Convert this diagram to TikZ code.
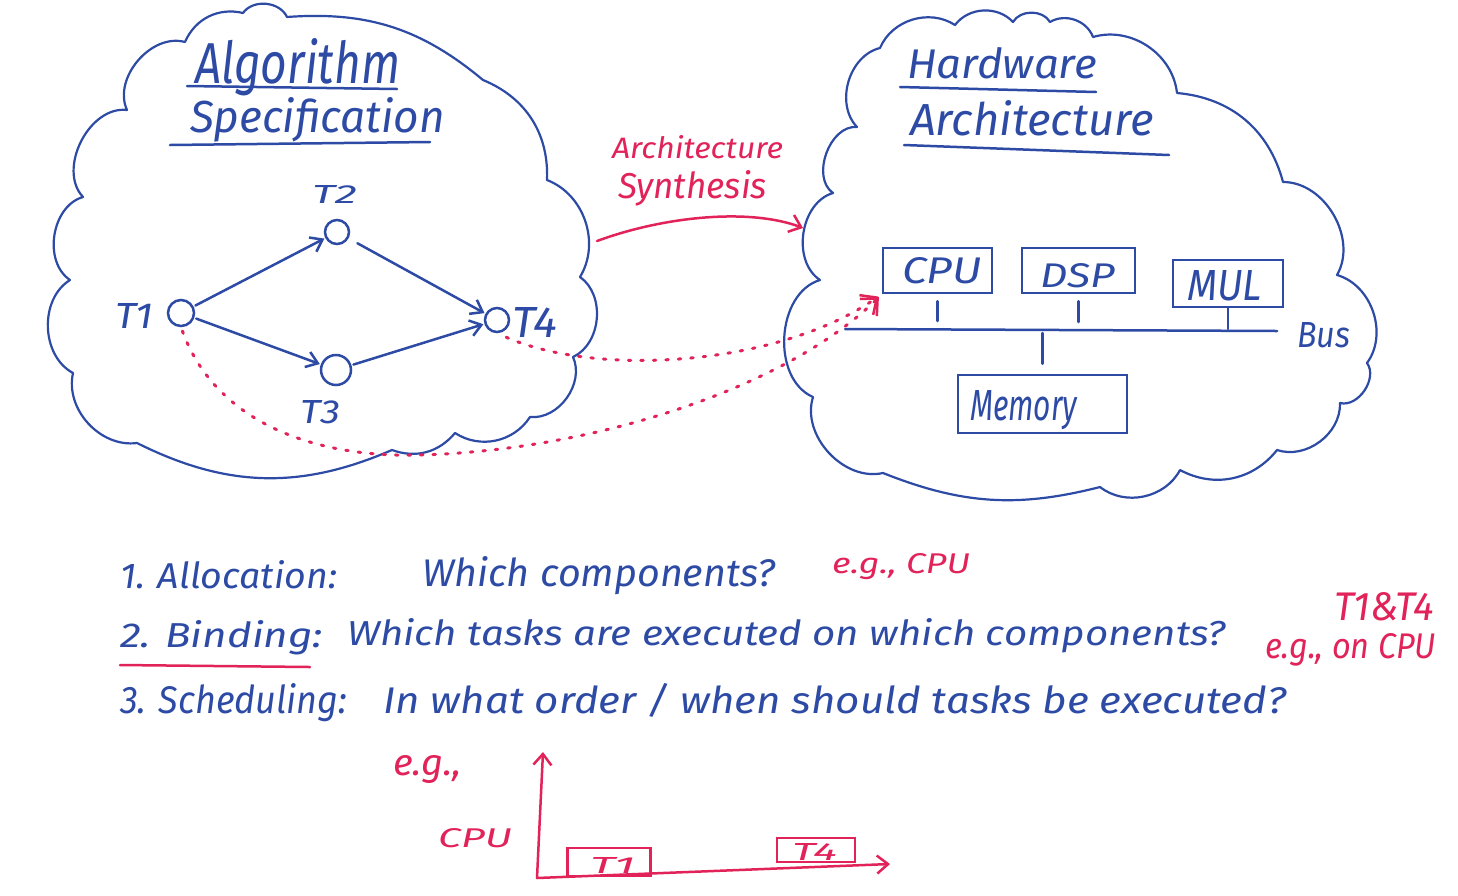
\documentclass[tikz,border=0pt]{standalone}
\usepackage{fontspec}
\setmainfont{Fira Sans}
\usepackage{graphicx}
\usetikzlibrary{arrows.meta}
\definecolor{ink}{RGB}{45,75,165}
\definecolor{redink}{RGB}{225,35,90}
\newcommand{\hw}[3]{\resizebox{#1pt}{#2pt}{\itshape #3}}
\begin{document}
\begin{tikzpicture}[x=1pt,y=-1pt,
  txt/.style={anchor=base west, inner sep=0pt, outer sep=0pt, text=ink},
  rtxt/.style={txt, text=redink},
  pen/.style={draw=ink, line width=2.5pt, line cap=round, line join=round},
  rpen/.style={draw=redink, line width=2.5pt, line cap=round, line join=round},
  cloudline/.style={pen, line width=2.2pt},
  task/.style={circle, draw=ink, line width=2.5pt, inner sep=0pt},
  box/.style={draw=ink, line width=2.5pt, inner sep=0pt},
  rbox/.style={draw=redink, line width=2.5pt, inner sep=0pt},
  garrow/.style={pen, -{Straight Barb[length=11pt,width=16pt]}},
  rarrow/.style={rpen, -{Straight Barb[length=11pt,width=18pt]}},
  dotarrow/.style={draw=redink, line width=3pt, line cap=round, dash pattern=on 2.5pt off 10pt, -{Straight Barb[length=13pt,width=24pt,line width=2.5pt]}}
]
\useasboundingbox (0,0) rectangle (1458,895);
\fill[white] (0,0) rectangle (1458,895);

% ---------- left cloud ----------
\draw[cloudline] (70,280) to[bend left=65] (83,197) to[bend left=70] (127,110)
  to[bend left=65] (185,42) to[bend left=40] (243,13) to[bend left=60] (287,17)
  to[bend left=22] (483,80) to[bend left=35] (547,180) to[bend left=50] (580,277)
  to[bend left=60] (573,357) to[bend left=60] (530,417) to[bend left=45] (455,433)
  to[bend left=35] (392,450) to[bend left=25] (137,443) to[bend left=55] (73,373)
  to[bend left=60] (70,280);

% ---------- right cloud ----------
\draw[cloudline] (857,127) to[bend left=60] (880,48) to[bend left=50] (955,25)
  to[bend left=50] (1013,22) to[bend left=60] (1050,22) to[bend left=50] (1093,37)
  to[bend left=50] (1177,93) to[bend left=35] (1283,182) to[bend left=60] (1337,275)
  to[bend left=55] (1367,363) to[bend left=70] (1340,403) to[bend left=55] (1277,450)
  to[bend left=40] (1180,470) to[bend left=50] (1100,487) to[bend left=18] (883,473)
  to[bend left=60] (813,397) to[bend left=70] (820,280) to[bend left=65] (833,193)
  to[bend left=75] (857,127);

% ---------- left titles ----------
\node[txt] (alg) at (195,83) {\hw{205}{45}{Algorithm}};
\node[txt] (spec) at (190,132) {\hw{255}{35}{Specification}};
\draw[pen] (187,86) -- (397,89);
\draw[pen] (170,145) -- (430,142);

% ---------- task graph ----------
\node[task, minimum size=26pt] (t1) at (181,313) {};
\node[task, minimum size=24pt] (t2) at (337,232) {};
\node[task, minimum size=30pt] (t3) at (336,370) {};
\node[task, minimum size=24pt] (t4) at (497,320) {};
\node[txt] (l1) at (115,328) {\hw{38}{25}{T1}};
\node[txt] (l2) at (312,203) {\hw{45}{18}{T2}};
\node[txt] (l3) at (300,423) {\hw{40}{23}{T3}};
\node[txt] (l4) at (512,337) {\hw{45}{30}{T4}};
\draw[garrow, shorten <=2pt, shorten >=1pt] (t1) -- (t2);
\draw[garrow, shorten <=2pt, shorten >=1pt] (t1) -- (t3);
\draw[garrow, shorten <=10pt, shorten >=1pt] (t2) -- (t4);
\draw[garrow, shorten <=2pt, shorten >=1pt] (t3) -- (t4);

% ---------- architecture synthesis ----------
\node[rtxt] (as1) at (612,158) {\hw{171}{23}{Architecture}};
\node[rtxt] (as2) at (618,198) {\hw{149}{28}{Synthesis}};
\coordinate (synS) at (597,241);
\coordinate (synE) at (803,228);
\draw[rarrow] (synS) .. controls (665,216) and (750,208) .. (synE);

% ---------- right titles ----------
\node[txt] (hw) at (907,78) {\hw{190}{31}{Hardware}};
\node[txt] (arch) at (910,135) {\hw{244}{35}{Architecture}};
\draw[pen] (900,87) -- (1096,92);
\draw[pen] (904,145) -- (1169,155);

% ---------- hardware ----------
\node[box, minimum width=109pt, minimum height=45pt] (cpu) at (937.5,270.5) {};
\node[box, minimum width=113pt, minimum height=45pt] (dsp) at (1078.5,270.5) {};
\node[box, minimum width=110pt, minimum height=47pt] (mul) at (1228,283.5) {};
\node[box, minimum width=169pt, minimum height=58pt] (mem) at (1042.5,404) {};
\node[txt] (cput) at (902,283) {\hw{80}{26}{CPU}};
\node[txt] (dspt) at (1040,287) {\hw{75}{24}{DSP}};
\node[txt] (mult) at (1187,300) {\hw{75}{30}{MUL}};
\node[txt] (memt) at (970,420) {\hw{107}{30}{Memory}};
\node[txt] (bust) at (1297,347) {\hw{53}{25}{Bus}};
\coordinate (busL) at (845,329);
\coordinate (busR) at (1277,331);
\draw[pen] (busL) -- (busR);
\draw[pen, shorten <=7pt, shorten >=8pt] (cpu.south) -- (cpu.south |- busL);
\draw[pen, shorten <=7pt, shorten >=7pt] (dsp.south) -- (dsp.south |- busL);
\draw[pen] (mul.south) -- (mul.south |- busL);
\draw[pen, shorten <=4pt, shorten >=10pt] (mem.north |- busL) -- (mem.north);

% ---------- mapping (dotted) ----------
\draw[dotarrow, shorten <=10pt, shorten >=4pt] (t4.south) .. controls (600,378) and (780,365) .. (cpu.south west);
\draw[dotarrow, shorten <=4pt, shorten >=4pt] (t1.south) .. controls (215,420) and (310,458) .. (420,455)
  .. controls (600,450) and (790,385) .. (cpu.south west);

% ---------- questions ----------
\node[txt] (q1a) at (120,588) {\hw{217}{28}{1. Allocation:}};
\node[txt] (q1b) at (422,586) {\hw{353}{30}{Which components?}};
\node[rtxt] (q1c) at (832,573) {\hw{138}{20}{e.g., CPU}};
\node[txt] (q2a) at (120,647) {\hw{203}{27}{2. Binding:}};
\draw[rpen] (120,665) -- (310,667);
\node[txt] (q2b) at (347,645) {\hw{879}{27}{Which tasks are executed on which components?}};
\node[rtxt] (q2c) at (1334,620) {\hw{100}{28}{T1\&T4}};
\node[rtxt] (q2d) at (1265,658) {\hw{171}{25}{e.g., on CPU}};
\node[txt] (q3a) at (120,713) {\hw{227}{30}{3. Scheduling:}};
\node[txt] (q3b) at (383,713) {\hw{903}{30}{In what order / when should tasks be executed?}};

% ---------- schedule chart ----------
\node[rtxt] (eg) at (393,775) {\hw{69}{20}{e.g.,}};
\node[rtxt] (ccpu) at (438,847) {\hw{74}{19}{CPU}};
\coordinate (org) at (537,878);
\coordinate (ytip) at (543,752);
\coordinate (xtip) at (890,864);
\draw[rarrow] (org) -- (ytip);
\draw[rarrow] (org) -- (xtip);
\node[rbox, minimum width=83pt, minimum height=28pt] (ct1) at (609,862) {};
\node[rbox, minimum width=78pt, minimum height=24pt] (ct4) at (816,850) {};
\node[rtxt] (ct1t) at (590,873) {\hw{45}{16}{T1}};
\node[rtxt] (ct4t) at (792,860) {\hw{45}{17}{T4}};
\end{tikzpicture}
\end{document}
